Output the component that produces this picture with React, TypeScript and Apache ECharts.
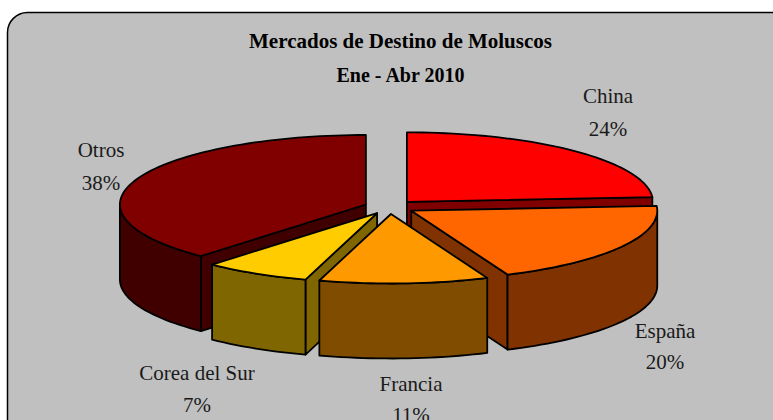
import React, { useEffect, useRef } from "react";
import * as echarts from "echarts";

// Data, in pie order (clockwise from 12 o'clock)
const categories = ["China", "España", "Francia", "Corea del Sur", "Otros"];
const shares = [23.9, 19.7, 11.1, 7.0, 38.3];
const percentLabels = ["24%", "20%", "11%", "7%", "38%"];
const titleLines = ["Mercados de Destino de Moluscos", "Ene - Abr 2010"];

// Styles
const topColors = ["#FF0000", "#FF6600", "#FF9900", "#FFCC00", "#800000"];
const sideColors = ["#800000", "#803300", "#804D00", "#806600", "#400000"];
const titleSizes = [21, 20];

// Layout
const drawOrder = [4, 0, 3, 1, 2];
const labelCenters = [
  [608, 96, 129],
  [665, 331, 362],
  [411, 384, 415],
  [197, 373, 405],
  [101, 150, 183],
];
const CX = 389.6, CY = 207, RX = 246, RY = 69.5, DEPTH = 75, EX = 25.4, EY = 7;
const FONT = '"Liberation Serif", serif';

function rad(f: number) {
  return (f / 100) * Math.PI * 2;
}

function renderItem(params: any, api: any) {
  const idx = drawOrder[params.dataIndex];
  const start = api.value(1);
  const share = api.value(0);
  const end = start + share;
  const mid = rad(start + share / 2);
  const ox = CX + EX * Math.sin(mid);
  const oy = CY - EY * Math.cos(mid);
  const pt = (f: number, d = 0): number[] => [
    ox + RX * Math.sin(rad(f)),
    oy - RY * Math.cos(rad(f)) + d,
  ];
  const arc = (a: number, b: number, d = 0) => {
    const n = Math.max(2, Math.ceil(Math.abs(b - a) * 2));
    const out: number[][] = [];
    for (let i = 0; i <= n; i++) out.push(pt(a + ((b - a) * i) / n, d));
    return out;
  };
  const lineStyle = { stroke: "#000", lineWidth: 1.8, lineJoin: "round" };
  const children: any[] = [];
  const poly = (points: number[][], fill: string) =>
    children.push({ type: "polygon", shape: { points }, style: { fill, ...lineStyle } });

  // Cut walls that face the viewer
  const sideFill = sideColors[idx];
  const apex = [ox, oy];
  const apexLow = [ox, oy + DEPTH];
  const startPt = pt(start);
  const endPt = pt(end);
  // wall along the end radius, visible for radii on the right half heading left/down
  if (end < 50) {
    poly([apex, endPt, [endPt[0], endPt[1] + DEPTH], apexLow], sideFill);
  }
  // wall along the start radius, visible for radii on the left half
  if (start > 50) {
    poly([apex, startPt, [startPt[0], startPt[1] + DEPTH], apexLow], sideFill);
  }
  // outer wall: only the front half of the rim (25%..75%)
  const a = Math.max(start, 25);
  const b = Math.min(end, 75);
  if (b > a) {
    poly([...arc(a, b), ...arc(b, a, DEPTH)], sideFill);
  }
  // top surface
  poly([apex, ...arc(start, end)], topColors[idx]);

  // Labels
  const [lx, ly1, ly2] = labelCenters[idx];
  [categories[idx], percentLabels[idx]].forEach((t, i) => {
    children.push({
      type: "text",
      style: {
        text: t,
        x: lx,
        y: i === 0 ? ly1 : ly2,
        fill: "#1a1a1a",
        font: `21px ${FONT}`,
        align: "center",
        verticalAlign: "middle",
      },
    });
  });
  return { type: "group", children };
}

export default function App() {
  const ref = useRef<HTMLDivElement>(null);
  useEffect(() => {
    const chart = echarts.init(ref.current!, null, { renderer: "svg" });
    const starts = shares.map((_, i) => shares.slice(0, i).reduce((s, v) => s + v, 0));
    chart.setOption({
      animation: false,
      backgroundColor: "#fff",
      graphic: [
        {
          type: "rect",
          silent: true,
          z: -1,
          shape: { x: 7.5, y: 12.5, width: 820, height: 460, r: 20 },
          style: { fill: "#C0C0C0", stroke: "#000", lineWidth: 1.5 },
        },
      ],
      title: titleLines.map((text, i) => ({
        text,
        left: 400.5,
        top: i === 0 ? 41 : 75,
        textAlign: "center",
        textVerticalAlign: "middle",
        padding: 0,
        textStyle: {
          fontFamily: FONT,
          fontWeight: "bold",
          fontSize: titleSizes[i],
          color: "#000",
        },
      })),
      series: [
        {
          type: "custom",
          coordinateSystem: "none",
          silent: true,
          renderItem,
          data: drawOrder.map((i) => ({
            name: categories[i],
            value: [shares[i], starts[i]],
          })),
        },
      ],
    });
    return () => chart.dispose();
  }, []);
  return (
    <div
      ref={ref}
      style={{ position: "fixed", left: 0, top: 0, width: 773, height: 420 }}
    />
  );
}
